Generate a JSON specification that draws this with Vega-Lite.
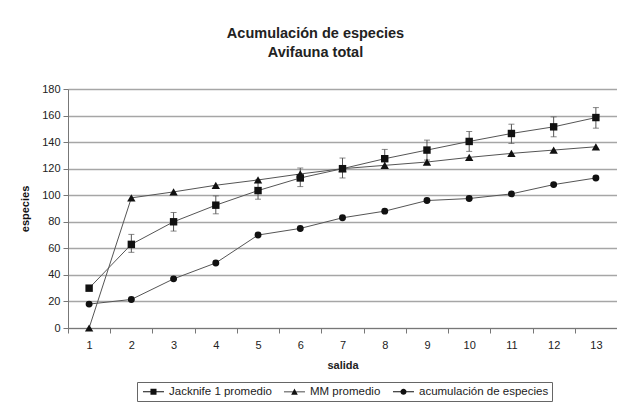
{
  "$schema": "https://vega.github.io/schema/vega-lite/v6.json",
  "width": 549,
  "height": 239,
  "autosize": {"type": "none"},
  "padding": {"left": 68, "top": 89, "right": 0, "bottom": 75},
  "background": "white",
  "title": {
    "text": ["Acumulación de especies", "Avifauna total"],
    "fontSize": 14.5,
    "fontWeight": "bold",
    "font": "Liberation Sans",
    "color": "#222",
    "lineHeight": 19,
    "baseline": "bottom",
    "offset": 9,
    "dx": -27
  },
  "data": {
    "values": [
      {"salida": 1, "serie": "Jacknife 1 promedio", "especies": 30, "lo": null, "hi": null},
      {"salida": 2, "serie": "Jacknife 1 promedio", "especies": 63, "lo": 57, "hi": 70.5},
      {"salida": 3, "serie": "Jacknife 1 promedio", "especies": 80, "lo": 73, "hi": 87},
      {"salida": 4, "serie": "Jacknife 1 promedio", "especies": 92.5, "lo": 86, "hi": 99.5},
      {"salida": 5, "serie": "Jacknife 1 promedio", "especies": 103.5, "lo": 97, "hi": 111.5},
      {"salida": 6, "serie": "Jacknife 1 promedio", "especies": 113, "lo": 106.5, "hi": 120.5},
      {"salida": 7, "serie": "Jacknife 1 promedio", "especies": 120, "lo": 113, "hi": 128},
      {"salida": 8, "serie": "Jacknife 1 promedio", "especies": 127.5, "lo": 121, "hi": 134.5},
      {"salida": 9, "serie": "Jacknife 1 promedio", "especies": 134, "lo": 126.5, "hi": 141.5},
      {"salida": 10, "serie": "Jacknife 1 promedio", "especies": 140.5, "lo": 133, "hi": 148},
      {"salida": 11, "serie": "Jacknife 1 promedio", "especies": 146.5, "lo": 139, "hi": 153.5},
      {"salida": 12, "serie": "Jacknife 1 promedio", "especies": 151.5, "lo": 144, "hi": 159},
      {"salida": 13, "serie": "Jacknife 1 promedio", "especies": 158.5, "lo": 150.5, "hi": 166},
      {"salida": 1, "serie": "MM promedio", "especies": 0},
      {"salida": 2, "serie": "MM promedio", "especies": 98},
      {"salida": 3, "serie": "MM promedio", "especies": 102.5},
      {"salida": 4, "serie": "MM promedio", "especies": 107.5},
      {"salida": 5, "serie": "MM promedio", "especies": 111.5},
      {"salida": 6, "serie": "MM promedio", "especies": 116},
      {"salida": 7, "serie": "MM promedio", "especies": 120},
      {"salida": 8, "serie": "MM promedio", "especies": 122.5},
      {"salida": 9, "serie": "MM promedio", "especies": 125},
      {"salida": 10, "serie": "MM promedio", "especies": 128.5},
      {"salida": 11, "serie": "MM promedio", "especies": 131.5},
      {"salida": 12, "serie": "MM promedio", "especies": 134},
      {"salida": 13, "serie": "MM promedio", "especies": 136.5},
      {"salida": 1, "serie": "acumulación de especies", "especies": 18},
      {"salida": 2, "serie": "acumulación de especies", "especies": 21.5},
      {"salida": 3, "serie": "acumulación de especies", "especies": 37},
      {"salida": 4, "serie": "acumulación de especies", "especies": 49},
      {"salida": 5, "serie": "acumulación de especies", "especies": 70},
      {"salida": 6, "serie": "acumulación de especies", "especies": 75},
      {"salida": 7, "serie": "acumulación de especies", "especies": 83},
      {"salida": 8, "serie": "acumulación de especies", "especies": 88},
      {"salida": 9, "serie": "acumulación de especies", "especies": 96},
      {"salida": 10, "serie": "acumulación de especies", "especies": 97.5},
      {"salida": 11, "serie": "acumulación de especies", "especies": 101},
      {"salida": 12, "serie": "acumulación de especies", "especies": 108},
      {"salida": 13, "serie": "acumulación de especies", "especies": 113}
    ]
  },
  "encoding": {
    "x": {
      "field": "salida",
      "type": "ordinal",
      "scale": {"type": "band", "paddingInner": 0, "paddingOuter": 0},
      "axis": {
        "title": "salida",
        "labelAngle": 0,
        "tickBand": "extent",
        "grid": false,
        "tickSize": 5,
        "labelPadding": 6,
        "titlePadding": 9
      }
    }
  },
  "layer": [
    {
      "mark": {"type": "line", "color": "#555", "strokeWidth": 1},
      "encoding": {
        "y": {
          "field": "especies",
          "type": "quantitative",
          "scale": {"domain": [0, 180]},
          "axis": {"title": "especies", "titleColor": "#111", "values": [0, 20, 40, 60, 80, 100, 120, 140, 160, 180], "grid": true, "tickSize": 5, "labelPadding": 3, "titlePadding": 11}
        },
        "detail": {"field": "serie"}
      }
    },
    {
      "mark": {"type": "rule", "color": "#555", "strokeWidth": 1},
      "encoding": {
        "y": {"field": "lo", "type": "quantitative", "title": "especies",
          "axis": {"title": "especies", "titleColor": "#111", "values": [0, 20, 40, 60, 80, 100, 120, 140, 160, 180], "grid": true, "tickSize": 5, "labelPadding": 3, "titlePadding": 11}},
        "y2": {"field": "hi"}
      }
    },
    {
      "mark": {"type": "tick", "color": "#555", "size": 6, "thickness": 1},
      "encoding": {"y": {"field": "lo", "type": "quantitative", "title": "especies",
        "axis": {"title": "especies", "titleColor": "#111", "values": [0, 20, 40, 60, 80, 100, 120, 140, 160, 180], "grid": true, "tickSize": 5, "labelPadding": 3, "titlePadding": 11}}}
    },
    {
      "mark": {"type": "tick", "color": "#555", "size": 6, "thickness": 1},
      "encoding": {"y": {"field": "hi", "type": "quantitative", "title": "especies",
        "axis": {"title": "especies", "titleColor": "#111", "values": [0, 20, 40, 60, 80, 100, 120, 140, 160, 180], "grid": true, "tickSize": 5, "labelPadding": 3, "titlePadding": 11}}}
    },
    {
      "transform": [{"filter": "datum.serie === 'Jacknife 1 promedio'"}],
      "mark": {"type": "point", "shape": "square", "filled": true, "color": "#111", "opacity": 1, "size": 55},
      "encoding": {"y": {"field": "especies", "type": "quantitative",
        "axis": {"title": "especies", "titleColor": "#111", "values": [0, 20, 40, 60, 80, 100, 120, 140, 160, 180], "grid": true, "tickSize": 5, "labelPadding": 3, "titlePadding": 11}}}
    },
    {
      "transform": [{"filter": "datum.serie === 'MM promedio'"}],
      "mark": {"type": "point", "shape": "triangle-up", "filled": true, "color": "#111", "opacity": 1, "size": 70},
      "encoding": {"y": {"field": "especies", "type": "quantitative",
        "axis": {"title": "especies", "titleColor": "#111", "values": [0, 20, 40, 60, 80, 100, 120, 140, 160, 180], "grid": true, "tickSize": 5, "labelPadding": 3, "titlePadding": 11}}}
    },
    {
      "transform": [{"filter": "datum.serie === 'acumulación de especies'"}],
      "mark": {"type": "point", "shape": "circle", "filled": true, "color": "#111", "opacity": 1, "size": 48},
      "encoding": {"y": {"field": "especies", "type": "quantitative",
        "axis": {"title": "especies", "titleColor": "#111", "values": [0, 20, 40, 60, 80, 100, 120, 140, 160, 180], "grid": true, "tickSize": 5, "labelPadding": 3, "titlePadding": 11}}}
    },
    {
      "mark": {"type": "point", "filled": true, "color": "#111", "size": 0},
      "encoding": {
        "y": {"field": "especies", "type": "quantitative",
          "axis": {"title": "especies", "titleColor": "#111", "values": [0, 20, 40, 60, 80, 100, 120, 140, 160, 180], "grid": true, "tickSize": 5, "labelPadding": 3, "titlePadding": 11}},
        "shape": {
          "field": "serie",
          "type": "nominal",
          "sort": ["Jacknife 1 promedio", "MM promedio", "acumulación de especies"],
          "scale": {"range": [
            "M-0.64,-0.09H3.18V0.09H-0.64ZM0.72,-0.55H1.82V0.55H0.72Z",
            "M-0.64,-0.09H3.18V0.09H-0.64ZM1.27,-0.6L1.87,0.5H0.67Z",
            "M-0.64,-0.09H3.18V0.09H-0.64ZM1.82,0A0.55,0.55 0 1,1 0.72,0A0.55,0.55 0 1,1 1.82,0Z"
          ]},
          "legend": {
            "title": null,
            "orient": "none",
            "legendX": 69,
            "legendY": 293,
            "direction": "horizontal",
            "strokeColor": "#666",
            "padding": 3,
            "columnPadding": 8,
            "labelFontSize": 11.5,
            "labelFont": "Liberation Sans",
            "labelColor": "#222",
            "symbolSize": 121,
            "symbolFillColor": "#111",
            "symbolOpacity": 1,
            "labelOffset": 16
          }
        }
      }
    }
  ],
  "config": {
    "view": {"stroke": null},
    "font": "Liberation Sans",
    "axis": {
      "labelFont": "Liberation Sans",
      "labelFontSize": 11,
      "labelColor": "#222",
      "titleFont": "Liberation Sans",
      "titleFontSize": 11,
      "titleFontWeight": "bold",
      "titleColor": "#222",
      "domainColor": "#777",
      "tickColor": "#777",
      "gridColor": "#a6a6a6",
      "gridWidth": 1.3
    }
  }
}
